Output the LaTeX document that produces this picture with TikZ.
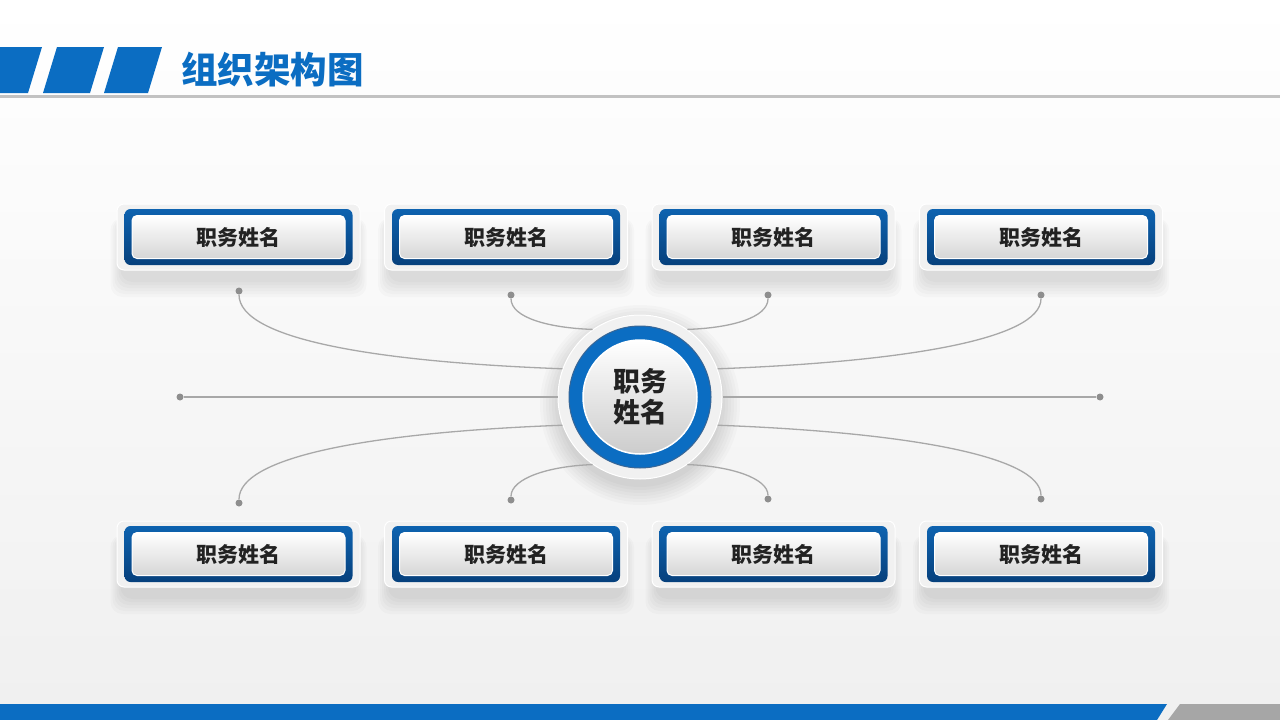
\documentclass[tikz,border=0pt]{standalone}
\usepackage{fontspec}
\setmainfont{Noto Sans CJK SC}
\usetikzlibrary{positioning}

\definecolor{titleblue}{HTML}{0B6DC2}
\definecolor{boxblue}{HTML}{0E63B0}
\definecolor{boxbluedark}{HTML}{06407C}
\definecolor{framegray}{HTML}{F1F1F1}
\definecolor{linegray}{HTML}{A8A8A8}
\definecolor{dotgray}{HTML}{8E8E8E}
\definecolor{txtdark}{HTML}{222222}

\tikzset{
  frame/.style={rectangle, rounded corners=7pt, fill=framegray, draw=white, line width=1pt,
    minimum width=243pt, minimum height=66pt},
  bluebox/.style={rectangle, rounded corners=6pt, top color=boxblue, bottom color=boxbluedark,
    minimum width=228pt, minimum height=56pt},
  namebox/.style={rectangle, rounded corners=5pt, top color=white, bottom color=black!16,
    draw=white, line width=1pt, minimum width=213pt, minimum height=43pt,
    font=\fontsize{21}{21}\selectfont\bfseries, text=txtdark},
  dot/.style={circle, fill=dotgray, inner sep=0pt, minimum size=7pt},
  link/.style={draw=linegray, line width=1.3pt},
}

\begin{document}
\begin{tikzpicture}[x=1pt, y=-1pt]
	\useasboundingbox (0,0) rectangle (1280,720);
	\shade[top color=white, bottom color=black!6] (0,0) rectangle (1280,720);

	% header
	\fill[titleblue] (0,47) -- (42,47) -- (28,93) -- (0,93) -- cycle;
	\fill[titleblue] (57,47) -- (104,47) -- (90,93) -- (43,93) -- cycle;
	\fill[titleblue] (118,47) -- (162,47) -- (148,93) -- (104,93) -- cycle;
	\fill[black!24] (0,95) rectangle (1280,98);
	\node[anchor=west, font=\fontsize{36.5}{36.5}\selectfont\bfseries, text=titleblue, inner sep=0pt]
		(title) at (181,70) {组织架构图};

	% footer
	\fill[titleblue] (0,704) -- (1167,704) -- (1157,720) -- (0,720) -- cycle;
	\fill[black!35] (1180,704) -- (1280,704) -- (1280,720) -- (1168,720) -- cycle;

	% boxes
	\foreach \n/\x in {1/238.5, 2/506, 3/773.5, 4/1041} {
		\foreach \k in {0,...,5}
			\fill[black, opacity=0.02, rounded corners=12pt] (\x-118-2*\k,218) rectangle (\x+118+2*\k,282+3*\k);
		\foreach \k in {0,...,5}
			\fill[black, opacity=0.02, rounded corners=12pt] (\x-118-2*\k,535) rectangle (\x+118+2*\k,599+3*\k);
		\node[frame] (t\n) at (\x,237) {};
		\node[bluebox] (t\n-blue) at (t\n) {};
		\node[namebox] (t\n-name) at (t\n) {职务姓名};
		\node[frame] (b\n) at (\x,554) {};
		\node[bluebox] (b\n-blue) at (b\n) {};
		\node[namebox] (b\n-name) at (b\n) {职务姓名};
	}

	% hub
	\foreach \k in {0,...,6}
		\fill[black, opacity=0.02] (640,405) circle ({82+3*\k});
	\node[circle, fill=framegray, draw=white, line width=1pt, minimum size=164pt] (hub) at (640,397) {};
	\node[circle, fill=titleblue, draw=boxbluedark!80, line width=1pt, minimum size=142pt] (hub-ring) at (hub) {};
	\node[circle, top color=white, bottom color=black!20, draw=white, line width=1.5pt,
		minimum size=114pt, align=center, font=\fontsize{27}{31}\selectfont\bfseries, text=txtdark]
		(hub-core) at (hub) {职务\\姓名};

	% dots
	\node[dot] (dt1) at (239,291) {};
	\node[dot] (dt2) at (511,295) {};
	\node[dot] (dt3) at (768,295) {};
	\node[dot] (dt4) at (1041,295) {};
	\node[dot] (db1) at (239,503) {};
	\node[dot] (db2) at (511,500) {};
	\node[dot] (db3) at (768,499) {};
	\node[dot] (db4) at (1041,499) {};
	\node[dot] (dl) at (180,397) {};
	\node[dot] (dr) at (1100,397) {};

	% links
	\draw[link] (dt1) .. controls (239,340) and (380,362) .. (hub.160);
	\draw[link] (dt2) .. controls (511,318) and (550,328) .. (hub.125);
	\draw[link] (dt3) .. controls (768,318) and (730,328) .. (hub.55);
	\draw[link] (dt4) .. controls (1041,340) and (900,362) .. (hub.20);
	\draw[link] (db1) .. controls (239,455) and (380,432) .. (hub.200);
	\draw[link] (db2) .. controls (511,478) and (550,466) .. (hub.235);
	\draw[link] (db3) .. controls (768,478) and (730,466) .. (hub.305);
	\draw[link] (db4) .. controls (1041,455) and (900,432) .. (hub.340);
	\draw[link] (dl) -- (hub.180);
	\draw[link] (hub.0) -- (dr);
\end{tikzpicture}
\end{document}
